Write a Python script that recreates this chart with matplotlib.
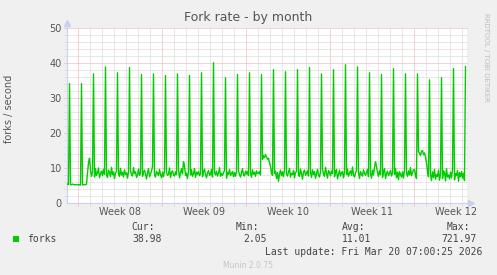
import numpy as np
import pandas as pd
import matplotlib
matplotlib.use("Agg")
import matplotlib.pyplot as plt
from matplotlib.patches import Rectangle

# fork rate, one value per 2 hours (odd hours), one row per day
forks_feb15 = [5.4, 5.3, 34.1, 5.3, 5.2, 5.4, 5.3, 5.2, 5.2, 5.3, 5.2]  # from 03:00
forks_days = [
    [5.2, 5.2, 5.1, 34.1, 5.2, 5.2, 5.3, 5.2, 5.4, 8.6, 11.6, 12.8],   # Feb 16
    [9.4, 7.6, 8.8, 36.9, 7.4, 9.8, 7.9, 8.6, 10.0, 7.2, 8.4, 9.1],
    [7.8, 9.6, 8.2, 38.9, 8.0, 7.3, 9.4, 8.7, 7.5, 10.2, 8.1, 8.9],
    [7.0, 8.5, 9.2, 37.2, 8.3, 7.6, 9.9, 8.0, 8.8, 7.4, 9.5, 8.2],
    [8.6, 7.1, 9.0, 38.7, 9.3, 8.1, 7.7, 10.1, 8.4, 8.9, 7.3, 8.0],
    [9.7, 7.9, 8.5, 36.7, 7.6, 8.8, 9.4, 8.2, 6.9, 8.6, 9.8, 7.5],
    [8.3, 9.1, 10.4, 36.9, 8.0, 7.4, 9.0, 8.5, 7.8, 9.6, 8.1, 7.2],
    [8.8, 7.5, 9.3, 36.4, 8.6, 7.9, 8.2, 10.0, 7.3, 8.7, 9.2, 8.0],    # Feb 23
    [7.7, 8.9, 8.1, 36.9, 9.4, 7.2, 8.6, 9.8, 8.3, 11.8, 10.6, 7.9],
    [8.5, 7.0, 9.2, 36.4, 8.0, 9.5, 7.6, 8.4, 9.9, 7.3, 8.8, 8.2],
    [9.0, 7.8, 8.3, 37.2, 7.5, 8.9, 9.7, 8.1, 7.2, 8.6, 9.3, 7.9],
    [8.2, 9.6, 7.4, 40.1, 8.7, 8.0, 9.1, 7.7, 8.5, 10.1, 7.6, 8.4],
    [7.9, 8.6, 9.3, 35.8, 7.1, 8.8, 8.2, 9.6, 7.8, 8.4, 9.0, 7.5],
    [8.7, 7.6, 8.9, 36.7, 9.2, 8.1, 7.4, 8.6, 9.8, 8.0, 7.7, 9.1],
    [8.3, 9.0, 7.8, 37.2, 8.5, 7.3, 9.5, 8.2, 8.8, 7.6, 9.2, 8.4],     # Mar 02
    [8.5, 9.0, 8.0, 36.7, 12.5, 13.5, 13.0, 13.8, 13.2, 12.5, 12.8, 11.5],
    [10.4, 8.6, 7.9, 38.1, 8.4, 9.1, 7.0, 8.7, 6.2, 8.2, 9.4, 7.8],
    [8.9, 7.5, 9.6, 37.5, 8.3, 7.7, 8.8, 9.9, 7.4, 8.5, 8.1, 9.3],
    [7.2, 8.7, 9.0, 38.1, 8.0, 7.6, 9.7, 8.4, 6.8, 8.9, 9.4, 7.9],
    [8.6, 9.2, 7.7, 38.7, 8.8, 7.3, 9.5, 8.1, 9.0, 7.0, 8.3, 9.6],
    [8.0, 7.4, 8.9, 36.9, 9.8, 8.2, 7.6, 10.2, 8.5, 7.1, 9.3, 8.7],
    [7.8, 9.1, 8.4, 38.1, 7.5, 8.9, 9.6, 6.9, 8.2, 9.4, 7.7, 8.6],     # Mar 09
    [9.0, 7.2, 8.8, 39.5, 8.1, 9.7, 7.6, 8.5, 9.2, 7.9, 10.3, 8.0],
    [7.4, 8.6, 9.3, 38.9, 8.7, 7.0, 9.0, 8.2, 7.7, 9.5, 8.4, 7.9],
    [8.8, 9.6, 7.5, 37.2, 8.3, 7.1, 9.4, 8.0, 10.2, 11.8, 10.5, 8.6],
    [7.6, 9.2, 8.1, 36.7, 7.3, 8.9, 9.8, 7.0, 8.4, 9.1, 7.8, 8.5],
    [9.3, 7.7, 8.6, 38.4, 8.2, 9.9, 7.2, 8.8, 6.7, 9.0, 8.1, 7.4],
    [8.9, 7.1, 9.4, 36.9, 8.5, 7.6, 9.2, 8.0, 10.1, 7.8, 8.7, 9.5],
    [9.5, 8.0, 7.0, 36.9, 14.7, 14.2, 13.6, 14.8, 15.0, 13.8, 14.3, 13.2],  # Mar 16
    [11.5, 9.0, 7.5, 35.2, 8.2, 6.4, 8.9, 7.3, 9.6, 6.8, 8.1, 7.6],
    [9.4, 6.5, 8.3, 35.8, 7.0, 9.2, 8.6, 6.3, 9.8, 7.4, 8.0, 6.9],
    [8.8, 7.2, 9.5, 38.4, 6.6, 8.4, 7.9, 9.3, 6.2, 8.7, 7.5, 9.0],
]
forks_mar20 = [7.1, 8.5, 6.4, 38.98]  # up to 07:00

week_labels = ["Week 08", "Week 09", "Week 10", "Week 11", "Week 12"]
y_ticks = [0, 10, 20, 30, 40, 50]

legend_name = "forks"
cur_val, min_val, avg_val, max_val = "38.98", "2.05", "11.01", "721.97"
last_update = "Last update: Fri Mar 20 07:00:25 2026"

forks = forks_feb15 + [v for day in forks_days for v in day] + forks_mar20
times = pd.date_range("2026-02-15 03:00", periods=len(forks), freq="2h")

week_starts = pd.date_range("2026-02-16", periods=len(week_labels), freq="7D")
week_mid = week_starts + pd.Timedelta(hours=84)
day_starts = pd.date_range("2026-02-16", "2026-03-20", freq="D")

W, H = 497, 275
BACK = "#F0F0F0"
FONT = "#555555"
AXIS = "#C9D0F4"
GRID = "#D2D2D2"
MGRID = "#E9A9A9"
GREEN = "#00CC00"

fig = plt.figure(figsize=(W / 100, H / 100), dpi=100, facecolor=BACK)
ax = fig.add_axes([67 / W, (H - 203) / H, 400 / W, 175 / H])
ax.set_facecolor("white")

x0 = pd.Timestamp("2026-02-15 02:00")
x1 = pd.Timestamp("2026-03-20 10:00")
ax.set_xlim(x0, x1)
ax.set_ylim(0, 50)

# grid, pushed a few pixels out past the axes like rrdtool ticks
dash = (0, (1, 1))
xtr = ax.get_xaxis_transform()
ytr = ax.get_yaxis_transform()
for v in np.arange(2, 50, 2):
    if v % 10 == 0:
        continue
    ax.plot([-3 / 400, 1], [v, v], transform=ytr, color=GRID, lw=0.72,
            ls=dash, clip_on=False, zorder=1)
for v in [10, 20, 30, 40, 50]:
    ax.plot([-3 / 400, 1], [v, v], transform=ytr, color=MGRID, lw=0.72,
            ls=dash, clip_on=False, zorder=1)
for d in day_starts:
    c = MGRID if d in week_starts else GRID
    ax.plot([d, d], [-3 / 175, 1], transform=xtr, color=c, lw=0.72,
            ls=dash, clip_on=False, zorder=1)

ax.plot(times, forks, color=GREEN, lw=1.0, zorder=3)

for s in ["top", "right"]:
    ax.spines[s].set_visible(False)
for s in ["left", "bottom"]:
    ax.spines[s].set_color(AXIS)
    ax.spines[s].set_linewidth(0.8)

# axis arrows
ax.plot([0, 0], [1, 1 + 5 / 175], transform=ax.transAxes, color=AXIS,
        lw=0.8, clip_on=False)
ax.plot([0], [1 + 5 / 175], transform=ax.transAxes, marker="^", ms=4,
        color=AXIS, clip_on=False)
ax.plot([1, 1 + 4 / 400], [0, 0], transform=ax.transAxes, color=AXIS,
        lw=0.8, clip_on=False)
ax.plot([1 + 4 / 400], [0], transform=ax.transAxes, marker=">", ms=4,
        color=AXIS, clip_on=False)

ax.set_yticks(y_ticks)
ax.set_yticklabels([str(v) for v in y_ticks])
ax.set_xticks(week_mid)
ax.set_xticklabels(week_labels)
ax.tick_params(axis="both", length=0, labelsize=7, labelcolor=FONT)
ax.tick_params(axis="y", pad=3.8)
ax.tick_params(axis="x", pad=3.2)


def px(x, y):
    return x / W, 1 - y / H


fig.text(*px(248, 18), "Fork rate - by month", ha="center", va="center",
         fontsize=9, color=FONT)
fig.text(*px(9.5, 109), "forks / second", ha="center", va="center",
         rotation=90, fontsize=7, color=FONT)
fig.text(*px(486, 57), "RRDTOOL / TOBI OETIKER", ha="center", va="center",
         rotation=270, fontsize=5, color="#BBBBBB")

# legend block
fig.patches.append(Rectangle(px(13, 242), 6 / W, 6 / H, transform=fig.transFigure,
                             facecolor=GREEN, edgecolor="none"))
mono = dict(family="DejaVu Sans Mono", fontsize=7, color="#444444", va="center")
fig.text(*px(27, 239.5), legend_name, ha="left", **mono)
fig.text(*px(131.5, 227.5), "Cur:", ha="left", **mono)
fig.text(*px(161.5, 239.5), cur_val, ha="right", **mono)
fig.text(*px(235.5, 227.5), "Min:", ha="left", **mono)
fig.text(*px(266.5, 239.5), min_val, ha="right", **mono)
fig.text(*px(341.5, 227.5), "Avg:", ha="left", **mono)
fig.text(*px(371.5, 239.5), avg_val, ha="right", **mono)
fig.text(*px(446.5, 227.5), "Max:", ha="left", **mono)
fig.text(*px(477, 239.5), max_val, ha="right", **mono)
fig.text(*px(482.5, 252), last_update, ha="right", **mono)
fig.text(*px(248, 266), "Munin 2.0.75", ha="center", va="center",
         fontsize=5.5, color="#C4C4C4")

fig.savefig("out.png", dpi=100, facecolor=BACK)
